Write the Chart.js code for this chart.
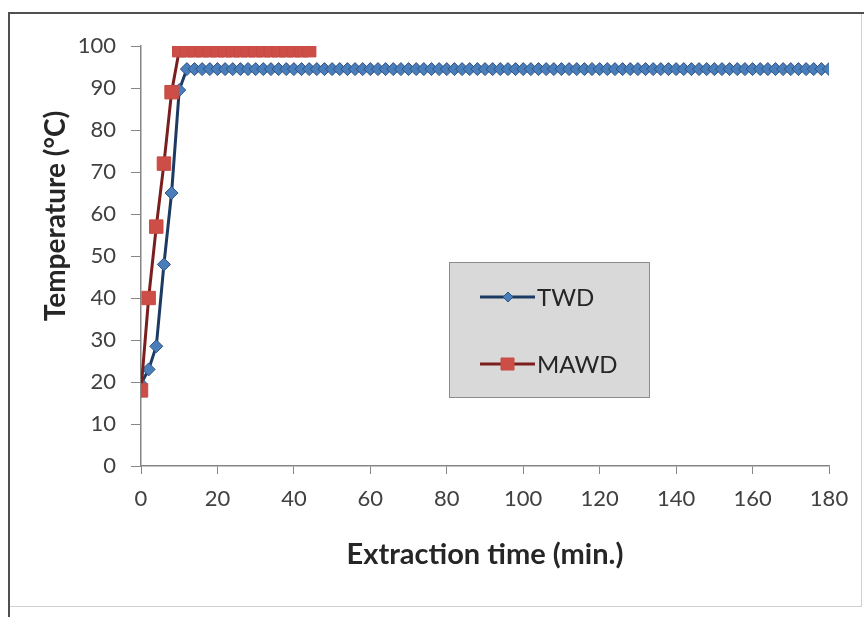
<!DOCTYPE html>
<html>
<head>
<meta charset="utf-8">
<script src="https://cdn.jsdelivr.net/npm/chart.js@4.4.1/dist/chart.umd.min.js"></script>
<style>
  html, body { margin: 0; padding: 0; background: #ffffff; }
  #wrap { width: 864px; height: 617px; position: relative; }
</style>
</head>
<body>
<div id="wrap"><canvas id="myChart"></canvas></div>
<script>
// datos
const tiempoTWD = [0, 2, 4, 6, 8, 10, 12, 14, 16, 18, 20, 22, 24, 26, 28, 30, 32, 34, 36, 38, 40,
  42, 44, 46, 48, 50, 52, 54, 56, 58, 60, 62, 64, 66, 68, 70, 72, 74, 76, 78, 80,
  82, 84, 86, 88, 90, 92, 94, 96, 98, 100, 102, 104, 106, 108, 110, 112, 114, 116, 118, 120,
  122, 124, 126, 128, 130, 132, 134, 136, 138, 140, 142, 144, 146, 148, 150, 152, 154, 156, 158, 160,
  162, 164, 166, 168, 170, 172, 174, 176, 178, 180];
const tempTWD = [19.5, 23, 28.5, 48, 65, 89.5, 94.5, 94.5, 94.5, 94.5, 94.5, 94.5, 94.5, 94.5, 94.5, 94.5, 94.5, 94.5, 94.5, 94.5, 94.5,
  94.5, 94.5, 94.5, 94.5, 94.5, 94.5, 94.5, 94.5, 94.5, 94.5, 94.5, 94.5, 94.5, 94.5, 94.5, 94.5, 94.5, 94.5, 94.5, 94.5,
  94.5, 94.5, 94.5, 94.5, 94.5, 94.5, 94.5, 94.5, 94.5, 94.5, 94.5, 94.5, 94.5, 94.5, 94.5, 94.5, 94.5, 94.5, 94.5, 94.5,
  94.5, 94.5, 94.5, 94.5, 94.5, 94.5, 94.5, 94.5, 94.5, 94.5, 94.5, 94.5, 94.5, 94.5, 94.5, 94.5, 94.5, 94.5, 94.5, 94.5,
  94.5, 94.5, 94.5, 94.5, 94.5, 94.5, 94.5, 94.5, 94.5, 94.5];
const tiempoMAWD = [0, 2, 4, 6, 8, 10, 12, 14, 16, 18, 20, 22, 24, 26, 28, 30, 32, 34, 36, 38, 40, 42, 44];
const tempMAWD = [18, 40, 57, 72, 89, 99, 99, 99, 99, 99, 99, 99, 99, 99, 99, 99, 99, 99, 99, 99, 99, 99, 99];

const nombresSeries = ["TWD", "MAWD"];
const tituloX = "Extraction time (min.)";
const tituloY = "Temperature (\u00B0C)";

const fuente = "Lato, 'Open Sans', sans-serif";

function puntos(xs, ys) {
    return xs.map((x, i) => ({ x: x, y: ys[i] }));
}

// marco, titulo del eje y y leyenda (cuadro gris dentro del grafico)
const extrasPlugin = {
    id: "extras",
    beforeDraw(chart) {
        const ctx = chart.ctx;
        ctx.save();
        ctx.strokeStyle = "#d0d0d0";
        ctx.lineWidth = 1;
        ctx.strokeRect(9.5, 13.5, 852, 593);
        ctx.strokeStyle = "#505050";
        ctx.lineWidth = 2;
        ctx.beginPath();
        ctx.moveTo(9, 617);
        ctx.lineTo(9, 13);
        ctx.lineTo(864, 13);
        ctx.stroke();
        ctx.restore();
    },
    afterDraw(chart) {
        const ctx = chart.ctx;
        ctx.save();
        // titulo eje y
        ctx.translate(56, 216);
        ctx.rotate(-Math.PI / 2);
        ctx.fillStyle = "#262626";
        ctx.font = "bold 28px " + fuente;
        ctx.textAlign = "center";
        ctx.textBaseline = "middle";
        ctx.fillText(tituloY, 0, 0);
        ctx.restore();

        // leyenda
        ctx.save();
        ctx.fillStyle = "#d9d9d9";
        ctx.fillRect(449, 262, 201, 136);
        ctx.strokeStyle = "#8c8c8c";
        ctx.lineWidth = 1;
        ctx.strokeRect(449.5, 262.5, 200, 135);
        const filas = [297, 364];
        chart.data.datasets.forEach((ds, i) => {
            const y = filas[i];
            ctx.strokeStyle = ds.borderColor;
            ctx.lineWidth = 3;
            ctx.beginPath();
            ctx.moveTo(480, y);
            ctx.lineTo(535, y);
            ctx.stroke();
            ctx.fillStyle = ds.pointBackgroundColor;
            ctx.strokeStyle = ds.pointBorderColor;
            ctx.lineWidth = 1;
            ctx.beginPath();
            if (ds.pointStyle === "rect") {
                ctx.rect(501, y - 6, 13, 12);
            } else {
                ctx.moveTo(508, y - 5);
                ctx.lineTo(513, y);
                ctx.lineTo(508, y + 5);
                ctx.lineTo(503, y);
                ctx.closePath();
            }
            ctx.fill();
            ctx.stroke();
            ctx.fillStyle = "#262626";
            ctx.font = "24px " + fuente;
            ctx.textAlign = "left";
            ctx.textBaseline = "middle";
            ctx.fillText(ds.label, 537, y + 1);
        });
        ctx.restore();
    }
};

new Chart("myChart", {
    type: "line",
    data: {
        datasets: [{
            label: nombresSeries[0],
            data: puntos(tiempoTWD, tempTWD),
            borderColor: "#1d3a63",
            borderWidth: 3,
            pointStyle: "rectRot",
            pointRadius: 6.5,
            pointBackgroundColor: "#4a7ebb",
            pointBorderColor: "#2c5282",
            pointBorderWidth: 1,
            tension: 0,
            order: 1
        }, {
            label: nombresSeries[1],
            data: puntos(tiempoMAWD, tempMAWD),
            borderColor: "#7a1f1d",
            borderWidth: 3,
            pointStyle: "rect",
            pointRadius: 9.5,
            pointBackgroundColor: "#cc4e47",
            pointBorderColor: "#c64a44",
            pointBorderWidth: 1,
            tension: 0,
            order: 0
        }]
    },
    options: {
        responsive: true,
        maintainAspectRatio: false,
        animation: false,
        devicePixelRatio: 1,
        layout: {
            padding: { left: 30, top: 46, right: 35, bottom: 40 }
        },
        plugins: {
            legend: { display: false },
            tooltip: { enabled: false }
        },
        scales: {
            x: {
                type: "linear",
                min: 0,
                max: 180,
                afterFit: function (scale) { scale.height = 111; },
                ticks: {
                    stepSize: 20,
                    color: "#404040",
                    font: { family: fuente, size: 22 },
                    padding: 12,
                    maxRotation: 0
                },
                grid: {
                    drawOnChartArea: false,
                    tickLength: 8,
                    color: "#868686"
                },
                border: { color: "#868686", width: 1.5 },
                title: {
                    display: true,
                    text: tituloX,
                    color: "#262626",
                    font: { family: fuente, size: 29, weight: "bold" },
                    padding: { top: 0, bottom: 5 }
                }
            },
            y: {
                min: 0,
                max: 100,
                afterFit: function (scale) { scale.width = 111; },
                ticks: {
                    stepSize: 10,
                    color: "#404040",
                    font: { family: fuente, size: 22 },
                    padding: 15
                },
                grid: {
                    drawOnChartArea: false,
                    tickLength: 10,
                    color: "#868686"
                },
                border: { color: "#868686", width: 1.5 }
            }
        }
    },
    plugins: [extrasPlugin]
});
</script>
</body>
</html>
